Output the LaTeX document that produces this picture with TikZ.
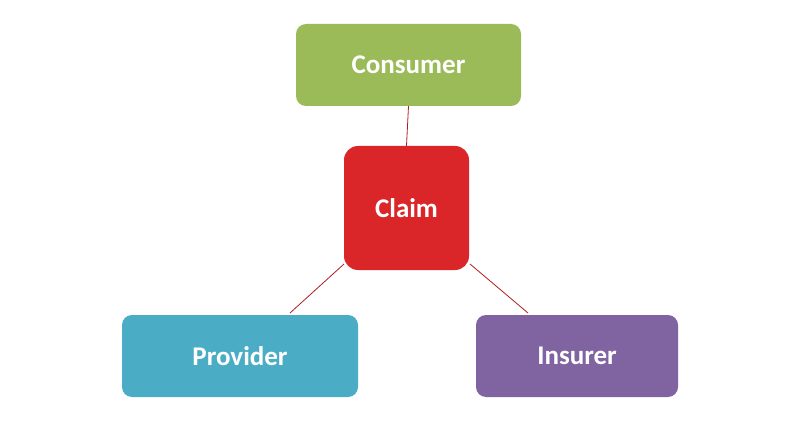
\documentclass[tikz,border=0pt]{standalone}
\usepackage{fontspec}
\setmainfont{Carlito}
\definecolor{cgreen}{HTML}{9BBB59}
\definecolor{cred}{HTML}{DA2628}
\definecolor{cblue}{HTML}{4BACC6}
\definecolor{cpurple}{HTML}{8064A2}
\begin{document}
\begin{tikzpicture}[x=1pt,y=-1pt,
  box/.style={rounded corners=10pt,text=white,font=\bfseries\fontsize{27}{30}\selectfont,inner sep=0pt},
  link/.style={draw=cred!80!black,line width=0.8pt}]
\useasboundingbox[fill=white] (0,0) rectangle (800,422);
\node[box,fill=cgreen,minimum width=225pt,minimum height=82pt] (consumer) at (408.5,65) {Consumer};
\node[box,fill=cred,minimum width=125pt,minimum height=124pt,rounded corners=14pt] (claim) at (406.5,208) {Claim};
\node[box,fill=cblue,minimum width=236pt,minimum height=82pt] (provider) at (240,356) {Provider};
\node[box,fill=cpurple,minimum width=202pt,minimum height=82pt] (insurer) at (577,356) {Insurer};
\draw[link] (consumer.south) ++(0,0) -- (claim.north);
\draw[link] (344,264) -- (290,313);
\draw[link] (470,264) -- (528,313);
\end{tikzpicture}
\end{document}
